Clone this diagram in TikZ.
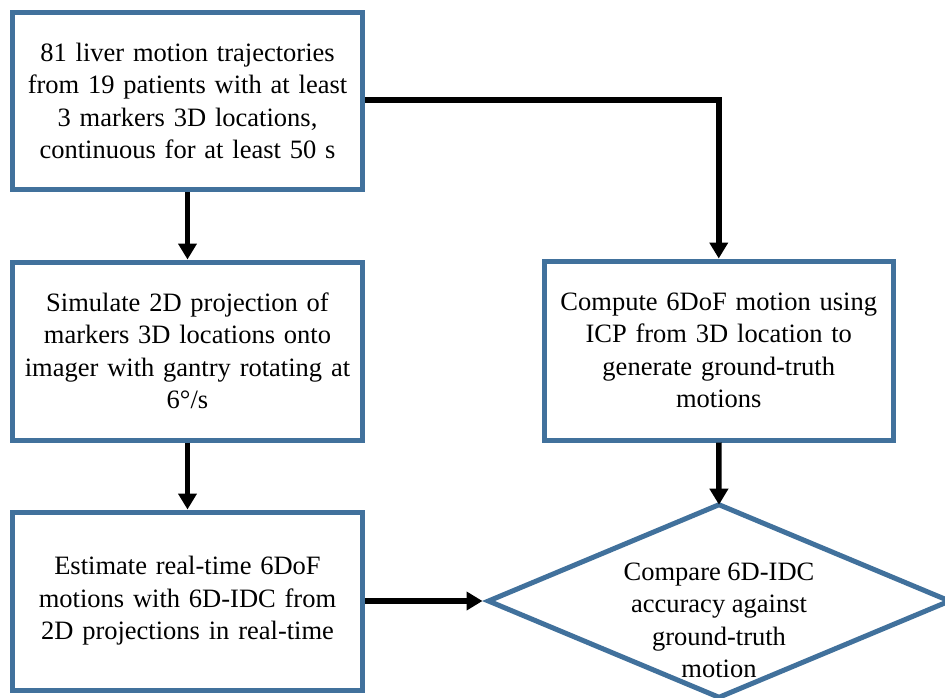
\documentclass[tikz,border=0pt]{standalone}
\usepackage{fontspec}
\setmainfont{Liberation Serif}
\usetikzlibrary{arrows.meta,shapes.geometric}
\definecolor{boxblue}{RGB}{65,113,156}
\begin{document}
\begin{tikzpicture}[x=1pt,y=-1pt,
  every node/.style={font=\fontsize{26.5}{32.5}\selectfont},
  stepbox/.style={draw=boxblue,line width=5pt,fill=white,align=center,
    text width=345pt,inner sep=0pt},
  flow/.style={line width=5.5pt,-{Triangle[length=16pt,width=18pt]}}]
\useasboundingbox (0,0) rectangle (945,697);
\node[stepbox,minimum width=350pt,minimum height=177.5pt] (b1) at (187.5,101)
  {81 liver motion trajectories\\from 19 patients with at least\\3 markers 3D locations,\\continuous for at least 50 s};
\node[stepbox,minimum width=350pt,minimum height=178pt] (b2) at (187.5,351)
  {Simulate 2D projection of\\markers 3D locations onto\\imager with gantry rotating at\\6°/s};
\node[stepbox,minimum width=350pt,minimum height=178pt] (b3) at (187.5,601)
  {Estimate real-time 6DoF\\motions with 6D-IDC from\\2D projections in real-time};
\node[stepbox,minimum width=349.5pt,minimum height=179pt] (b4) at (718.75,350.5)
  {Compute 6DoF motion using\\ICP from 3D location to\\generate ground-truth\\motions};
\node[diamond,draw=boxblue,line width=5pt,fill=white,inner sep=0pt,outer sep=0pt,
  minimum width=461pt,minimum height=192.6pt] (dia) at (719,601) {};
\node[align=center,inner sep=0pt] (dtext) at (719,620.5)
  {Compare 6D-IDC\\accuracy against\\ground-truth\\motion};
\draw[flow] (b1.south) -- (b2.north);
\draw[flow] (b2.south) -- (b3.north);
\draw[flow] (b1.east |- 0,100) -| (b4.north);
\draw[flow] (b4.south) -- (dia.north);
\draw[flow,shorten >=6pt] (b3.east) -- (dia.west);
\end{tikzpicture}
\end{document}
